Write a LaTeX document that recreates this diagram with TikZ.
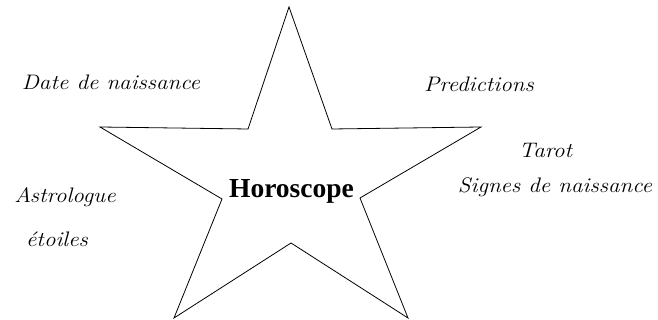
\documentclass[tikz,border=0pt]{standalone}
\usepackage{fontspec}
\setmainfont{Liberation Serif}
\newcommand\lblfont{\fontfamily{lmr}\fontshape{it}\selectfont}
\begin{document}
\begin{tikzpicture}[x=1pt,y=1pt,line width=.8pt,
 line cap=round,line join=miter,
 lbl/.style={font=\fontsize{21}{25}\lblfont,anchor=base,
  inner sep=0pt,xscale=1.1,transform shape},
 ttl/.style={font=\fontsize{27.5}{32}\selectfont\bfseries,anchor=base,inner sep=0pt}]
\useasboundingbox (0,0) rectangle (658,320);
% star
\draw (289,313)--(332,191)--(481,193)--(360,122)--(408,2)--(291,77)
  --(174,2)--(222,121)--(100,193)--(248,191)--cycle;
\node[ttl] (horo) at (291.5,122) {Horoscope};
% left words
\node[lbl] (date) at (111,230) {Date de naissance};
\node[lbl] (astro) at (65,117) {Astrologue};
\node[lbl] (etoi) at (57,73) {étoiles};
% right words
\node[lbl] (pred) at (479,228) {Predictions};
\node[lbl] (tarot) at (545.5,162) {Tarot};
\node[lbl] (signes) at (555,127) {Signes de naissance};
\end{tikzpicture}
\end{document}
